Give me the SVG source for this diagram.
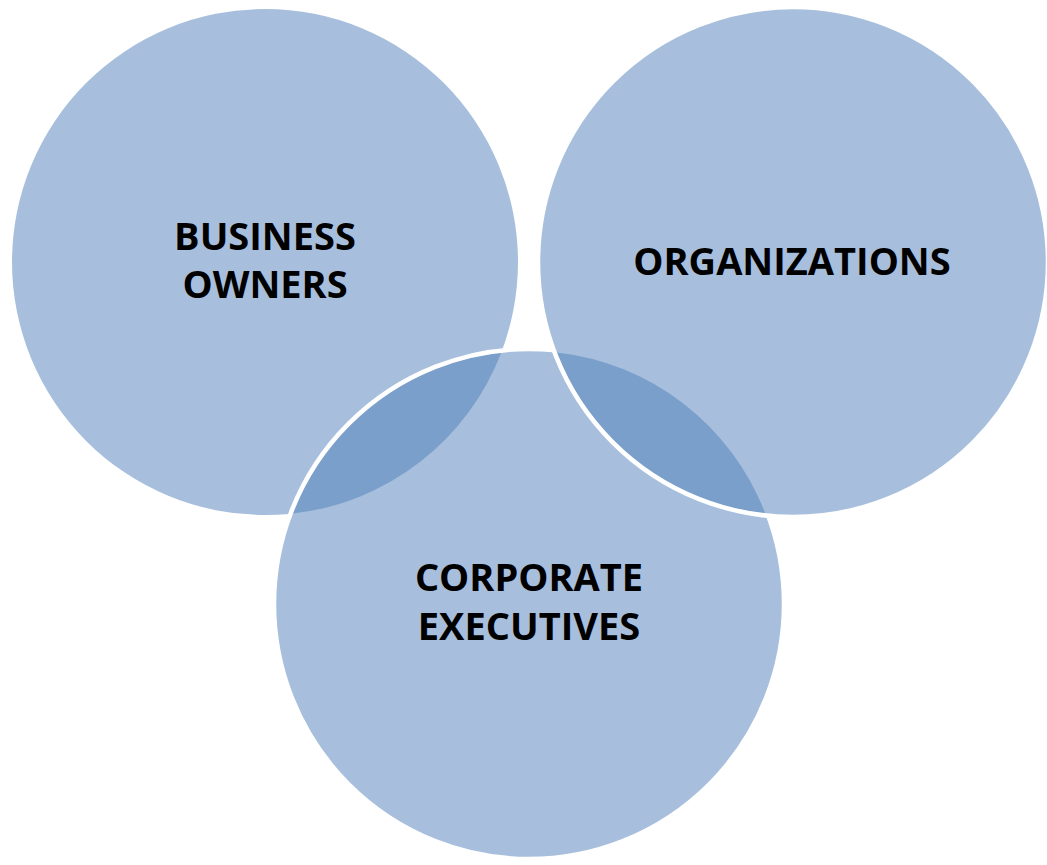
<svg xmlns="http://www.w3.org/2000/svg" width="1047" height="865" viewBox="0 0 1047 865">
  <style>
    .fill { fill: #A7BFDD; }
    .lens { fill: #7A9FCA; }
    .edge { fill: none; stroke: #FFFFFF; stroke-width: 4.5; }
    .label { font-family: "Open Sans", "Liberation Sans", sans-serif; font-weight: 700; font-size: 38px; fill: #000000; text-anchor: middle; }
  </style>
  <rect width="1047" height="865" fill="#FFFFFF"/>

  <g id="business-owners">
    <circle class="fill" cx="265" cy="262" r="253"/>
    <text class="label" x="265" y="250">BUSINESS</text>
    <text class="label" x="265" y="298">OWNERS</text>
  </g>

  <g id="corporate-executives">
    <circle class="fill" cx="529" cy="604" r="255"/>
    <!-- overlap with the left circle -->
    <path class="lens" d="M292.7,513.5 A253,253 0 0 1 501.3,352.5 A253,253 0 0 1 292.7,513.5 Z"/>
    <circle class="edge" cx="529" cy="604" r="255"/>
  </g>

  <g id="organizations">
    <circle class="fill" cx="793" cy="262" r="255"/>
    <!-- overlap with the bottom circle -->
    <path class="lens" d="M556.7,352.5 A253,253 0 0 1 765.3,513.5 A253,253 0 0 1 556.7,352.5 Z"/>
    <circle class="edge" cx="793" cy="262" r="255"/>
    <text class="label" x="792" y="275">ORGANIZATIONS</text>
  </g>

  <g id="corporate-executives-label">
    <text class="label" x="529" y="591">CORPORATE</text>
    <text class="label" x="529" y="640">EXECUTIVES</text>
  </g>

  <g id="connectors"/>
</svg>
